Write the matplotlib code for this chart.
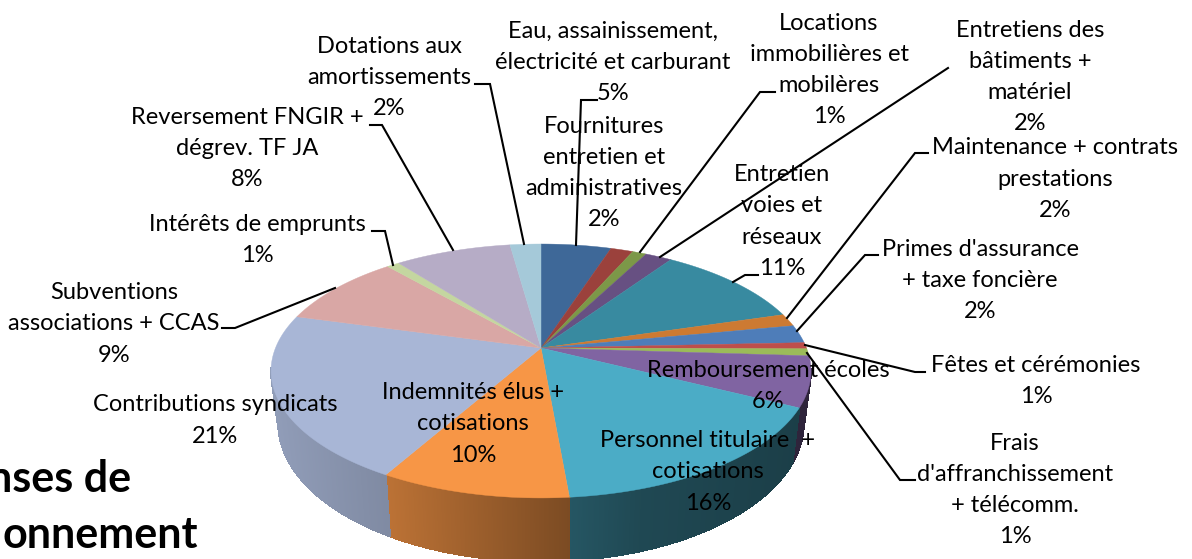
import numpy as np
import matplotlib
matplotlib.use("Agg")
import matplotlib.pyplot as plt
from matplotlib.collections import PolyCollection

# ---- data ----
categories = ["Eau, assainissement,\nélectricité et carburant",
              "Fournitures\nentretien et\nadministratives",
              "Locations\nimmobilières et\nmobilères",
              "Entretiens des\nbâtiments +\nmatériel",
              "Entretien\nvoies et\nréseaux",
              "Maintenance + contrats\nprestations",
              "Primes d'assurance\n+ taxe foncière",
              "Fêtes et cérémonies",
              "Frais\nd'affranchissement\n+ télécomm.",
              "Remboursement écoles",
              "Personnel titulaire  +\ncotisations",
              "Indemnités élus +\ncotisations",
              "Contributions syndicats",
              "Subventions\nassociations + CCAS",
              "Intérêts de emprunts",
              "Reversement FNGIR +\ndégrev. TF JA",
              "Dotations aux\namortissements"]
values = [5.0, 1.6, 1.0, 1.9, 10.9, 1.6, 2.3, 0.8, 0.9, 6.4, 16.2, 9.6, 21.1, 9.3, 0.9, 8.3, 2.2]
percent_labels = ["5%", "2%", "1%", "2%", "11%", "2%", "2%", "1%", "1%", "6%", "16%", "10%", "21%", "9%", "1%", "8%", "2%"]
colors = ["#3E6898", "#9B413C", "#7C9848", "#675082", "#388AA0", "#CD7A32", "#4E7DB9", "#BE4E4B",
          "#9BBB59", "#8064A2", "#4BACC6", "#F79646", "#A8B6D6", "#D9A7A5", "#C4D6A0", "#B6ACC6", "#A5C9D9"]
title_lines = ["nses de", "onnement"]

# ---- layout (pixels) ----
W, H = 1192, 559
APEX_X, APEX_Y = 541, 348
A, B, K = 122.8, 265.5, 0.181
label_pos = [(613, 62.5), (604, 173), (829, 70), (1030, 77), (782, 221.5), (1055, 179), (980, 280.5), (1036, 381),
             (1015, 490), (768, 386), (708, 472), (473, 424), (215, 420.5), (114, 324), (257, 240), (247, 148.5),
             (389, 77.5)]
leaders = [[(597, 100), (581, 100), (576, 245)],
           [(775, 92), (760, 92), (640, 252)],
           [(948, 68), (660, 257)],
           [(758, 275), (745, 275), (733, 282)],
           [(928, 153), (915, 153), (787, 318)],
           [(878, 255), (865, 255), (797, 331)],
           [(925, 372), (915, 372), (805, 345)],
           [(915, 480), (900, 480), (807, 353)],
           [(370, 125), (382, 125), (453, 250)],
           [(372, 231), (385, 231), (393, 265)],
           [(222, 328), (235, 328), (335, 288)],
           [(475, 84), (490, 84), (524, 244)]]


def project(theta):
    """Perspective view of the unit circle; theta runs clockwise from the top."""
    u, v = np.sin(theta), np.cos(theta)
    w = 1 + K * v
    return APEX_X + B * u / w, APEX_Y - A * v / w


def lower_rim(x, y):
    return APEX_X + (x - APEX_X) * 0.973, y + 50 + 0.09 * (y - APEX_Y)


def shade(x):
    return np.interp(x - APEX_X, [-270, -156, 28, 100, 270], [0.86, 0.76, 0.50, 0.42, 0.36])


plt.rcParams["font.family"] = ["Lato", "DejaVu Sans"]
fig = plt.figure(figsize=(W / 100, H / 100), dpi=100)
ax = fig.add_axes([0, 0, 1, 1])
ax.set_xlim(0, W)
ax.set_ylim(H, 0)
ax.axis("off")

edges = np.cumsum([0] + values) / sum(values) * 2 * np.pi

# side wall with a left-to-right shading
for i, col in enumerate(colors):
    t = np.linspace(edges[i], edges[i + 1], max(int((edges[i + 1] - edges[i]) * 200), 2))
    x, y = project(t)
    bx, by = lower_rim(x, y)
    base = np.array(matplotlib.colors.to_rgb(col))
    polys, cols = [], []
    for j in range(len(t) - 1):
        if np.cos((t[j] + t[j + 1]) / 2) > -K * 0.9:
            continue
        polys.append([(x[j], y[j]), (x[j + 1], y[j + 1]), (bx[j + 1], by[j + 1]), (bx[j], by[j])])
        cols.append(base * shade((x[j] + x[j + 1]) / 2))
    if polys:
        ax.add_collection(PolyCollection(polys, facecolors=cols, edgecolors=cols, linewidths=0.8,
                                         antialiaseds=False, zorder=1))

# top face
for i, col in enumerate(colors):
    t = np.linspace(edges[i], edges[i + 1], 80)
    x, y = project(t)
    ax.fill(np.r_[APEX_X, x], np.r_[APEX_Y, y], color=col, lw=0.3, zorder=2)

# leader lines
for pts in leaders:
    xs, ys = zip(*pts)
    ax.plot(xs, ys, color="black", lw=1.5, zorder=3, solid_joinstyle="miter")

# labels
for cat, pct, (lx, ly) in zip(categories, percent_labels, label_pos):
    ax.text(lx, ly, cat + "\n" + pct, ha="center", va="center", fontsize=17, color="black",
            linespacing=1.6, zorder=4)

# cropped title at the lower left
ax.text(131, 492, title_lines[0], ha="right", va="baseline", fontsize=31, fontweight="bold", color="black", zorder=4)
ax.text(198, 548, title_lines[1], ha="right", va="baseline", fontsize=31, fontweight="bold", color="black", zorder=4)

fig.savefig("out.png", dpi=100, facecolor="white")
